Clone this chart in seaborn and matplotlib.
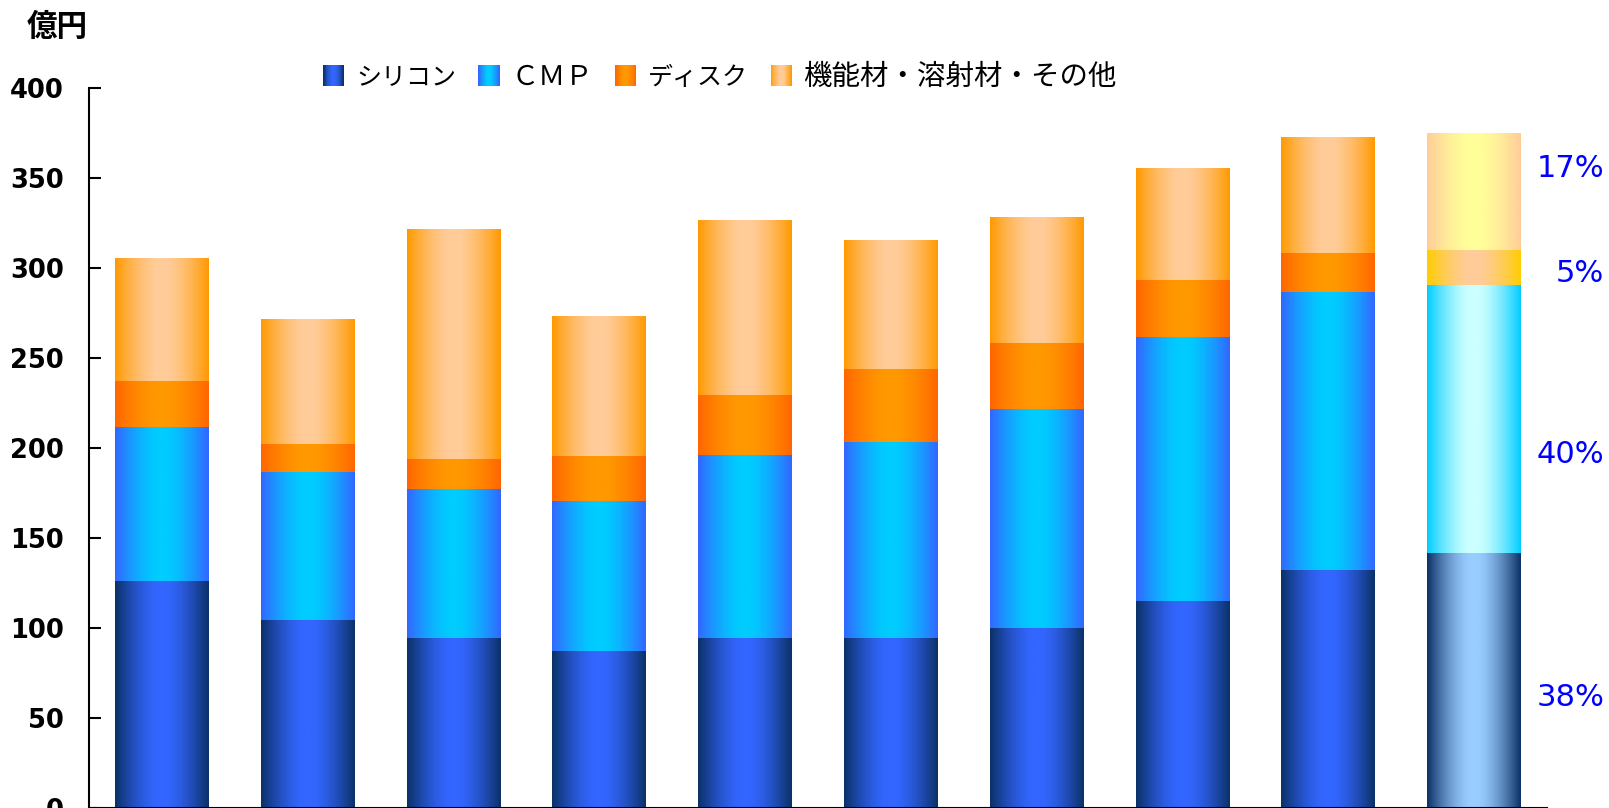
import numpy as np
import pandas as pd
import matplotlib
matplotlib.use("Agg")
import matplotlib.pyplot as plt
import matplotlib.transforms as mtrans
from matplotlib.colors import to_rgb
from matplotlib.legend_handler import HandlerBase
from matplotlib.patches import Rectangle
import seaborn as sns

# ---------------- data ----------------
periods = [f"P{i}" for i in range(1, 11)]          # x labels not shown in the reference
series_names = ["シリコン", "ＣＭＰ", "ディスク", "機能材・溶射材・その他"]
silicon = [126.0, 104.3, 94.0, 87.2, 94.0, 94.0, 99.8, 114.8, 131.7, 141.4]
cmp_vals = [85.5, 81.7, 82.7, 82.8, 101.5, 108.4, 121.2, 146.2, 154.5, 148.8]
disk = [25.5, 16.0, 17.1, 25.5, 33.5, 40.6, 36.7, 32.0, 21.6, 19.4]
other = [68.0, 69.4, 127.7, 77.5, 97.0, 71.7, 70.1, 62.0, 64.5, 64.9]
y_ticks = [0, 50, 100, 150, 200, 250, 300, 350, 400]
unit_label = "億円"

# gradient colours (edge, centre) per series; last bar highlighted
grad_normal = [("#0B3166", "#3366FF"), ("#3366FF", "#00CCFF"),
               ("#FF6600", "#FF9900"), ("#FF9900", "#FFCC99")]
grad_last = [("#0B3166", "#99CCFF"), ("#00CCFF", "#CCFFFF"),
             ("#FFCC00", "#FFCC99"), ("#FFCC99", "#FFFF99")]
pct_y = [61, 196, 297, 355]   # label positions for the share labels

# ---------------- style ----------------
sns.set_style("white")
plt.rcParams["font.family"] = ["DejaVu Sans", "Noto Sans CJK JP"]
plt.rcParams["text.color"] = "black"
CJK = ["Noto Sans CJK JP", "DejaVu Sans"]

fig = plt.figure(figsize=(16.09, 8.08), dpi=100)
ax = fig.add_axes([0.0551, 0.0006, 0.9062, 0.8909])

layers = [silicon, cmp_vals, disk, other]
cum = np.cumsum(np.array(layers), axis=0)   # shape (4, 10)

df = pd.DataFrame({"period": periods})
for i, name in enumerate(series_names):
    df[name] = cum[i]

# draw stacked bars (cumulative, top layer first)
for i in range(3, -1, -1):
    sns.barplot(data=df, x="period", y=series_names[i], order=periods,
                color=grad_normal[i][1], width=0.64, saturation=1,
                linewidth=0, edgecolor="none", ax=ax, zorder=1)


def grad_strip(edge, centre, n=256):
    e = np.array(to_rgb(edge))
    c = np.array(to_rgb(centre))
    t = np.abs(np.linspace(-1, 1, n))
    f = np.clip((t - 0.08) / 0.92, 0, 1) ** 1.5
    return (c[None, :] + (e - c)[None, :] * f[:, None])[None, :, :]


# overlay gradients on each segment
patches = list(ax.patches)   # ordered: other, disk, cmp, silicon (each 10 bars)
for k, i in enumerate(range(3, -1, -1)):
    for j in range(len(periods)):
        p = patches[k * len(periods) + j]
        x0 = p.get_x()
        x1 = x0 + p.get_width()
        top = cum[i][j]
        bot = cum[i - 1][j] if i > 0 else 0.0
        edge, centre = (grad_last if j == len(periods) - 1 else grad_normal)[i]
        ax.imshow(grad_strip(edge, centre), extent=(x0, x1, bot, top),
                  aspect="auto", interpolation="bilinear", zorder=2)

ax.set_xlim(-0.5, len(periods) - 0.5)
ax.set_ylim(0, 400)
ax.set_yticks(y_ticks)
ax.set_yticklabels([str(v) for v in y_ticks], fontsize=18.5, fontweight="bold")
ax.tick_params(axis="y", left=True, direction="in", length=8.5, width=1.5,
               pad=18, colors="black")
ax.tick_params(axis="x", bottom=False, labelbottom=False)
ax.set_xlabel("")
ax.set_ylabel("")
for s in ["top", "right"]:
    ax.spines[s].set_visible(False)
for s in ["left", "bottom"]:
    ax.spines[s].set_linewidth(1.5)
    ax.spines[s].set_color("black")
    ax.spines[s].set_zorder(5)

# share labels for the last bar
last_total = cum[3][-1]
trans = mtrans.blended_transform_factory(ax.transAxes, ax.transData)
for i in range(4):
    pct = round(100 * layers[i][-1] / last_total)
    ax.text(1.0393, pct_y[i], f"{pct}%", transform=trans, ha="right",
            va="center", fontsize=22, color="#0000FF")

# unit label
fig.text(0.0357, 0.967, unit_label, ha="center", va="center", fontsize=22,
         fontweight="bold", family=CJK, color="black")


# legend with gradient squares
class GradHandle:
    def __init__(self, edge, centre):
        self.edge, self.centre = edge, centre


class GradHandler(HandlerBase):
    def create_artists(self, legend, orig_handle, xdescent, ydescent, width,
                       height, fontsize, trans):
        n = 24
        cols = grad_strip(orig_handle.edge, orig_handle.centre, n)[0]
        arts = []
        for k in range(n):
            r = Rectangle((-xdescent + width * k / n, -ydescent), width / n * 1.05,
                          height, facecolor=cols[k], edgecolor="none",
                          transform=trans)
            arts.append(r)
        return arts


handles = [GradHandle(*g) for g in grad_normal]
leg = fig.legend(handles, series_names, loc="center", ncol=4, frameon=False,
                 bbox_to_anchor=(0.4475, 0.905), bbox_transform=fig.transFigure,
                 handler_map={GradHandle: GradHandler()},
                 handlelength=0.8, handleheight=0.8, handletextpad=0.45,
                 columnspacing=0.85, prop={"family": CJK, "size": 19},
                 labelcolor="black")
for t, sz in zip(leg.get_texts(), [18, 19.5, 18, 20.5]):
    t.set_fontsize(sz)

fig.savefig("out.png", dpi=100)
